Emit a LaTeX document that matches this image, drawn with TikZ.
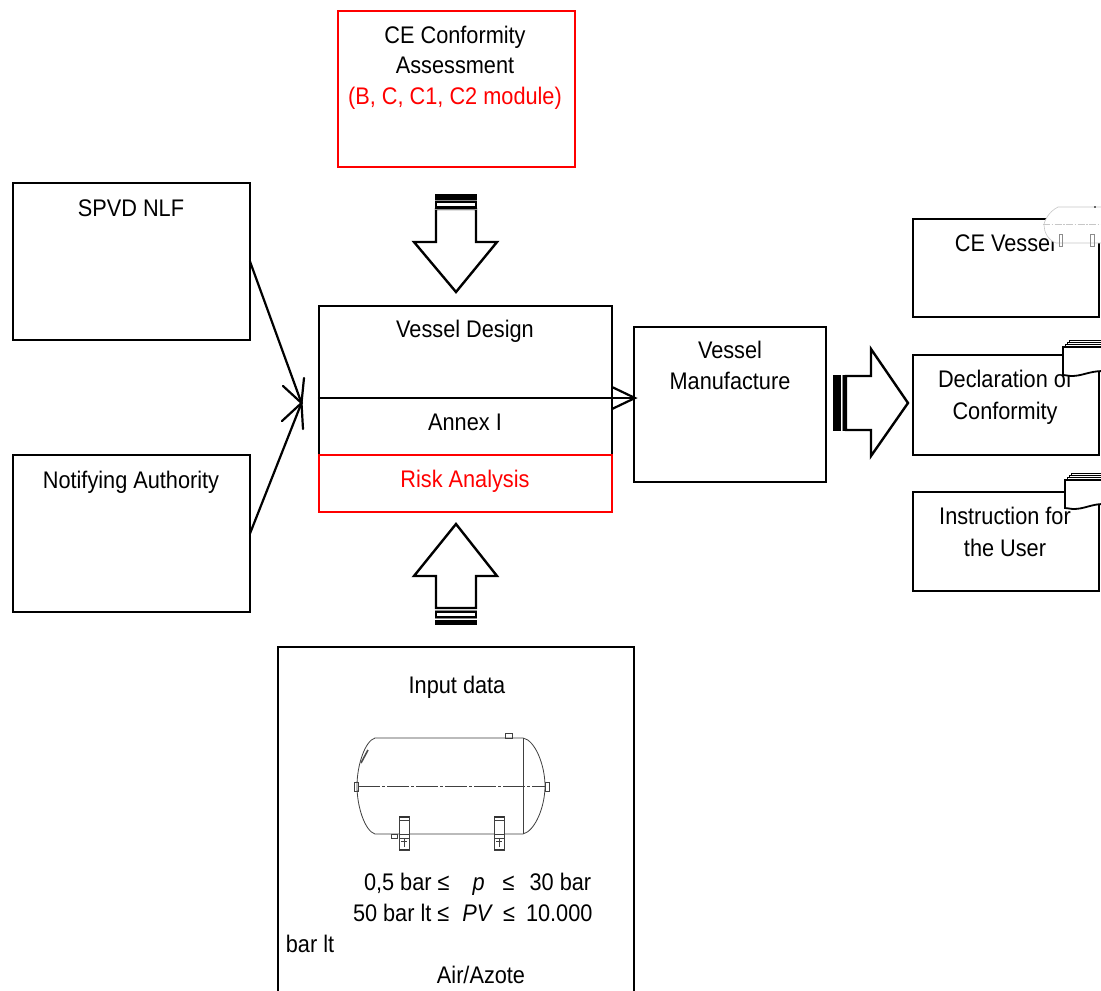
\documentclass[tikz,border=0pt]{standalone}
\usepackage{fontspec}
\setmainfont[FakeStretch=0.905]{Liberation Sans}
\definecolor{cered}{RGB}{255,0,0}
\tikzset{
  px/.style={x=1pt,y=-1pt},
  boxline/.style={draw=black,line width=1.8pt},
  redline/.style={draw=cered,line width=1.8pt},
  txt/.style={font=\fontsize{24}{31}\selectfont,anchor=base,inner sep=0pt,outer sep=0pt},
  redtxt/.style={txt,text=cered},
  conn/.style={draw=black,line width=2.2pt,line cap=round},
  block/.style={draw=black,line width=2.4pt,fill=white,line join=miter},
  sheet/.style={draw=black,line width=1.8pt,fill=white},
  vline/.style={draw=black!75,line width=0.8pt},
  ghost/.style={draw=black!22,line width=0.6pt},
}
\newcommand{\boxnode}[6]{% name, style, x1, y1, x2, y2
  \path[#2] (#3,#4) rectangle (#5,#6);
  \coordinate (#1 nw) at (#3,#4);
  \coordinate (#1 se) at (#5,#6);
  \node[inner sep=0pt,outer sep=0pt,minimum width=#5pt-#3pt,minimum height=#6pt-#4pt] (#1) at ({(#3+#5)/2},{(#4+#6)/2}) {};
}
\begin{document}
\begin{tikzpicture}[px]
\clip (0,0) rectangle (1101,991);
\fill[white] (0,0) rectangle (1101,991);

% boxes
\boxnode{ce}{redline}{338}{11}{575}{167}
\boxnode{spvd}{boxline}{13}{183}{250}{340}
\boxnode{notif}{boxline}{13}{455}{250}{612}
\boxnode{design}{boxline}{319}{306}{612}{455}
\boxnode{risk}{redline}{319}{455}{612}{512}
\boxnode{manuf}{boxline}{634}{327}{826}{482}
\boxnode{cevessel}{boxline}{913}{219}{1099}{317}
\boxnode{decl}{boxline}{913}{355}{1099}{455}
\boxnode{instr}{boxline}{913}{492}{1099}{591}
\boxnode{input}{boxline}{278}{647}{634}{1000}

% texts
\node[txt] (t1) at (455,43) {CE Conformity};
\node[txt] (t2) at (455,73.5) {Assessment};
\node[redtxt] (t3) at (455,104) {(B, C, C1, C2 module)};
\node[txt] (t4) at (131,216) {SPVD NLF};
\node[txt] (t5) at (131,488) {Notifying Authority};
\node[txt] (t6) at (465,337) {Vessel Design};
\node[txt] (t7) at (465,430) {Annex I};
\node[redtxt] (t8) at (465,487) {Risk Analysis};
\node[txt] (t9) at (730,358) {Vessel};
\node[txt] (t10) at (730,389) {Manufacture};
\node[txt] (t11) at (1005,251) {CE Vessel};
\node[txt] (t12) at (1005,387) {Declaration of};
\node[txt] (t13) at (1005,419) {Conformity};
\node[txt] (t14) at (1005,524) {Instruction for};
\node[txt] (t15) at (1005,556) {the User};
\node[txt] (t16) at (457,693) {Input data};
\node[txt,anchor=base west] (t17) at (364,890) {0,5 bar ≤\hspace{23pt}\textit{p}\hspace{18pt}≤\hspace{15pt}30 bar};
\node[txt,anchor=base west] (t18) at (353,921) {50 bar lt ≤\hspace{13pt}\textit{PV}\hspace{10pt}≤\hspace{11pt}10.000};
\node[txt] (t19) at (310,952) {bar lt};
\node[txt] (t20) at (481,983) {Air/Azote};

% connectors
\coordinate (tip) at (301.5,403);
\coordinate (bar1) at (283,386);
\coordinate (bar2) at (304,378);
\coordinate (bar3) at (282,421);
\coordinate (bar4) at (303,429);
\coordinate (from) at (319,398);
\coordinate (to) at (635,398);
\coordinate (bar5) at (612,387);
\coordinate (bar6) at (612,409);
\draw[conn] (spvd.east) -- (tip);
\draw[conn] (notif.east) -- (tip);
\draw[conn] (bar1) -- (tip) -- (bar3);
\draw[conn] (bar2) -- (tip) -- (bar4);
\draw[conn] (from) -- (to);
\draw[conn] (bar5) -- (to) -- (bar6);

% block arrow down
\draw[block] (436,209) -- (476,209) -- (476,242) -- (497,242) -- (456,292) -- (414,242) -- (436,242) -- cycle;
\fill (435,194) rectangle (477,199.5);
\draw[black,line width=1.6pt,fill=white] (436,202) rectangle (476,207);
\draw[black!45,line width=0.6pt] (435,200.5) -- (477,200.5) (435,209) -- (477,209);

% block arrow up
\draw[block] (436,608) -- (476,608) -- (476,576) -- (497,576) -- (456,524) -- (414,576) -- (436,576) -- cycle;
\fill (435,619.5) rectangle (477,625);
\draw[black,line width=1.6pt,fill=white] (436,612) rectangle (476,617);
\draw[black!45,line width=0.6pt] (435,610) -- (477,610) (435,618.5) -- (477,618.5);

% block arrow right
\draw[block] (846,376) -- (871,376) -- (871,349) -- (908,403) -- (871,456) -- (871,430) -- (846,430) -- cycle;
\fill (833,375) rectangle (841,431);
\fill (843,375) rectangle (847,431);
\draw[black!45,line width=0.6pt] (842,375) -- (842,431);

% stacked sheets icon: declaration
\foreach \d in {6.5,4.5,2.5}{\draw[black,line width=0.9pt,fill=white] (1063+\d,347-\d) -- (1103,347-\d) -- (1103,352) -- (1063+\d,352) -- cycle;}
\fill[white] (1063,347) -- (1103,347) -- (1103,371) .. controls (1090,371) and (1082,378) .. (1070,376) .. controls (1067,376) and (1065,375) .. (1063,375) -- cycle;
\draw[sheet,fill=none] (1103,347) -- (1063,347) -- (1063,375) .. controls (1066,375) and (1068,376) .. (1072,376) .. controls (1082,376) and (1090,371) .. (1103,371);
\draw[boxline] (1099,372) -- (1099,380);

% stacked sheets icon: instruction
\foreach \d in {6.5,4.5,2.5}{\draw[black,line width=0.9pt,fill=white] (1065+\d,480-\d) -- (1103,480-\d) -- (1103,486) -- (1065+\d,486) -- cycle;}
\fill[white] (1065,480) -- (1103,480) -- (1103,504) .. controls (1090,504) and (1082,511) .. (1072,509) .. controls (1069,509) and (1067,508) .. (1065,508) -- cycle;
\draw[sheet,fill=none] (1103,480) -- (1065,480) -- (1065,508) .. controls (1068,508) and (1070,509) .. (1074,509) .. controls (1084,509) and (1092,504) .. (1103,504);
\draw[boxline] (1099,505) -- (1099,512);

% ghost vessel on CE Vessel
\path[fill=white] (1103,207) -- (1058,207) .. controls (1048,212) and (1044,222) .. (1044,225) .. controls (1044,232) and (1048,240) .. (1056,243) -- (1103,243) -- cycle;
\draw[ghost] (1103,207) -- (1058,207) .. controls (1048,212) and (1044,222) .. (1044,225) .. controls (1044,232) and (1048,240) .. (1056,243) -- (1103,243);
\draw[ghost,dash pattern=on 7pt off 1.5pt on 1.5pt off 1.5pt] (1043,224.5) -- (1103,224.5);
\draw[ghost,draw=black!45] (1059,234) rectangle (1062,246) (1090,234) rectangle (1094,246);
\fill[black!60] (1094,206) rectangle (1096,208);

% vessel drawing
\draw[vline] (375,738) -- (523,738) .. controls (535,740) and (545,765) .. (545,786) .. controls (545,807) and (535,831) .. (523,834) -- (375,834) .. controls (365,831) and (357,807) .. (357,786) .. controls (357,765) and (365,741) .. (375,738) -- cycle;
\draw[vline] (523,738) -- (523,834);
\draw[vline,line width=0.6pt,dash pattern=on 22pt off 2pt on 3pt off 2pt] (358,786) -- (545,786);
\draw[vline] (354,782) rectangle (358,791);
\draw[vline] (545,782) rectangle (549,791);
\draw[vline] (505,733) rectangle (512,738);
\draw[vline] (391,834) rectangle (397,838);
\draw[black!70,line width=1.6pt] (361,763) -- (368,750);
\foreach \sx in {399,494}{
  \draw[vline,fill=white] (\sx,816) rectangle (\sx+10,850);
  \draw[black!80,line width=1.2pt] (\sx,817) -- (\sx+10,817);
  \draw[vline] (\sx,820) -- (\sx+10,820) (\sx,834) -- (\sx+10,834) (\sx,838) -- (\sx+10,838) (\sx+5,838) -- (\sx+5,847) (\sx+2,841) -- (\sx+8,841);
  \draw[black!80,line width=1.2pt] (\sx,849.5) -- (\sx+10,849.5);
}
\end{tikzpicture}
\end{document}
